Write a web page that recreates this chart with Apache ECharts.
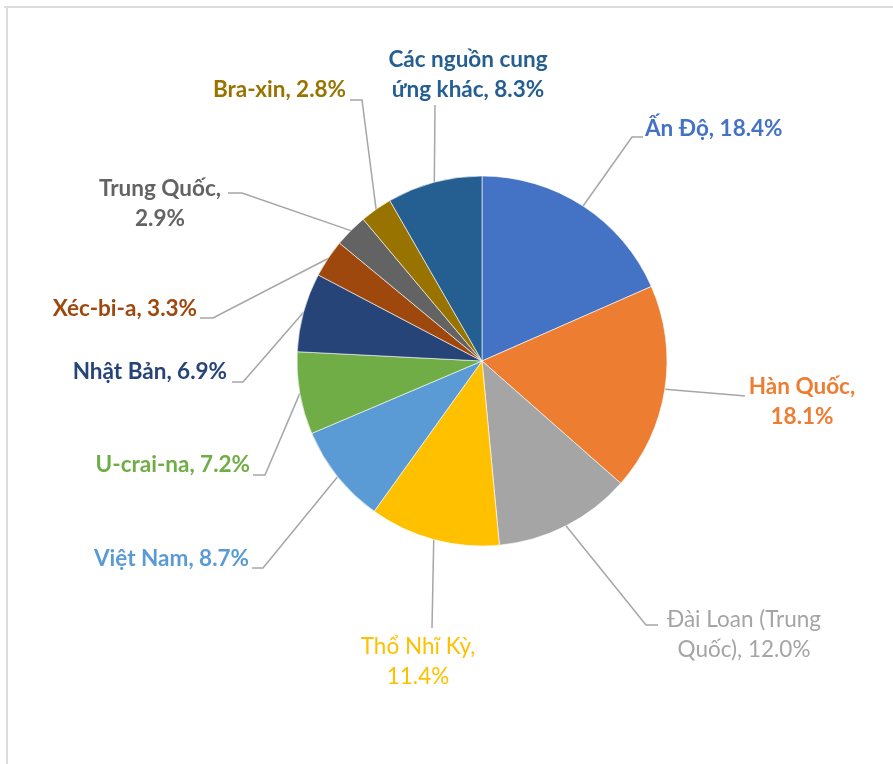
<!DOCTYPE html>
<html>
<head>
<meta charset="utf-8">
<script src="https://cdn.jsdelivr.net/npm/echarts@6/dist/echarts.min.js"></script>
<style>
  html, body { margin: 0; padding: 0; background: #fff; }
  #chart { width: 893px; height: 764px; }
</style>
</head>
<body>
<div id="chart"></div>
<script>
// Import sources by share (%), clockwise from 12 o'clock
const categories = [
  'Ấn Độ', 'Hàn Quốc', 'Đài Loan (Trung Quốc)', 'Thổ Nhĩ Kỳ', 'Việt Nam',
  'U-crai-na', 'Nhật Bản', 'Xéc-bi-a', 'Trung Quốc', 'Bra-xin', 'Các nguồn cung ứng khác'
];
const shares = [18.4, 18.1, 12.0, 11.4, 8.7, 7.2, 6.9, 3.3, 2.9, 2.8, 8.3];

const sliceColors = [
  '#4472C4', '#ED7D31', '#A5A5A5', '#FFC000', '#5B9BD5',
  '#70AD47', '#264478', '#9E480E', '#636363', '#997300', '#255E91'
];
// Regular weight for the two lighter labels
const labelWeights = ['bold', 'bold', 'normal', 'normal', 'bold', 'bold', 'bold', 'bold', 'bold', 'bold', 'bold'];

// Label placement: text anchor, leader line end (hook) and elbow (bend), line break point
const labelSpots = [
  { x: 645, y: 129, align: 'left',   hook: [643, 137], bend: [632, 137] },
  { x: 802, y: 402, align: 'center', hook: [745, 396], bend: [734, 395], br: 'Quốc,' },
  { x: 744, y: 635, align: 'center', hook: [658, 625], bend: [646, 625], br: '(Trung' },
  { x: 418, y: 662, align: 'center', hook: [432, 628], br: 'Kỳ,' },
  { x: 249, y: 559, align: 'right',  hook: [252, 568], bend: [263, 568] },
  { x: 250, y: 465, align: 'right',  hook: [253, 475], bend: [265, 475] },
  { x: 227, y: 372, align: 'right',  hook: [232, 382], bend: [243, 382] },
  { x: 197, y: 309, align: 'right',  hook: [200, 318], bend: [213, 318] },
  { x: 160, y: 204, align: 'center', hook: [228, 193], bend: [242, 193], br: 'Quốc,' },
  { x: 346, y: 90,  align: 'right',  hook: [350, 100], bend: [362, 100] },
  { x: 468, y: 75,  align: 'center', hook: [435, 105], br: 'cung' }
];

const chart = echarts.init(document.getElementById('chart'), null, { renderer: 'canvas' });

const pieData = categories.map((name, i) => ({
  name: name,
  value: shares[i],
  itemStyle: { color: sliceColors[i] },
  label: { color: sliceColors[i], fontWeight: labelWeights[i] }
}));

chart.setOption({
  animation: false,
  backgroundColor: '#ffffff',
  graphic: [
    { type: 'line', shape: { x1: 4, y1: 7, x2: 893, y2: 7 }, style: { stroke: '#DCDCDC', lineWidth: 2 } },
    { type: 'line', shape: { x1: 7, y1: 7, x2: 7, y2: 764 }, style: { stroke: '#DCDCDC', lineWidth: 2 } }
  ],
  series: [{
    type: 'pie',
    center: [482, 361],
    radius: 185,
    startAngle: 90,
    clockwise: true,
    avoidLabelOverlap: false,
    data: pieData,
    itemStyle: { borderColor: '#ffffff', borderWidth: 0.6 },
    label: {
      show: true,
      position: 'outside',
      fontFamily: 'Lato',
      fontSize: 22.5,
      lineHeight: 30,
      formatter: function (p) {
        let text = p.name + ', ' + p.value.toFixed(1) + '%';
        const br = labelSpots[p.dataIndex].br;
        if (br) text = text.replace(br + ' ', br + '\n');
        return text;
      }
    },
    labelLine: {
      show: true,
      length: 20,
      length2: 10,
      smooth: false,
      lineStyle: { color: '#A6A6A6', width: 1.5 }
    },
    labelLayout: function (params) {
      const s = labelSpots[params.dataIndex];
      const start = params.labelLinePoints[0];
      const bend = s.bend || s.hook;
      return {
        x: s.x,
        y: s.y,
        align: s.align,
        verticalAlign: 'middle',
        labelLinePoints: [[start[0], start[1]], bend.slice(), s.hook.slice()]
      };
    }
  }]
});
</script>
</body>
</html>
